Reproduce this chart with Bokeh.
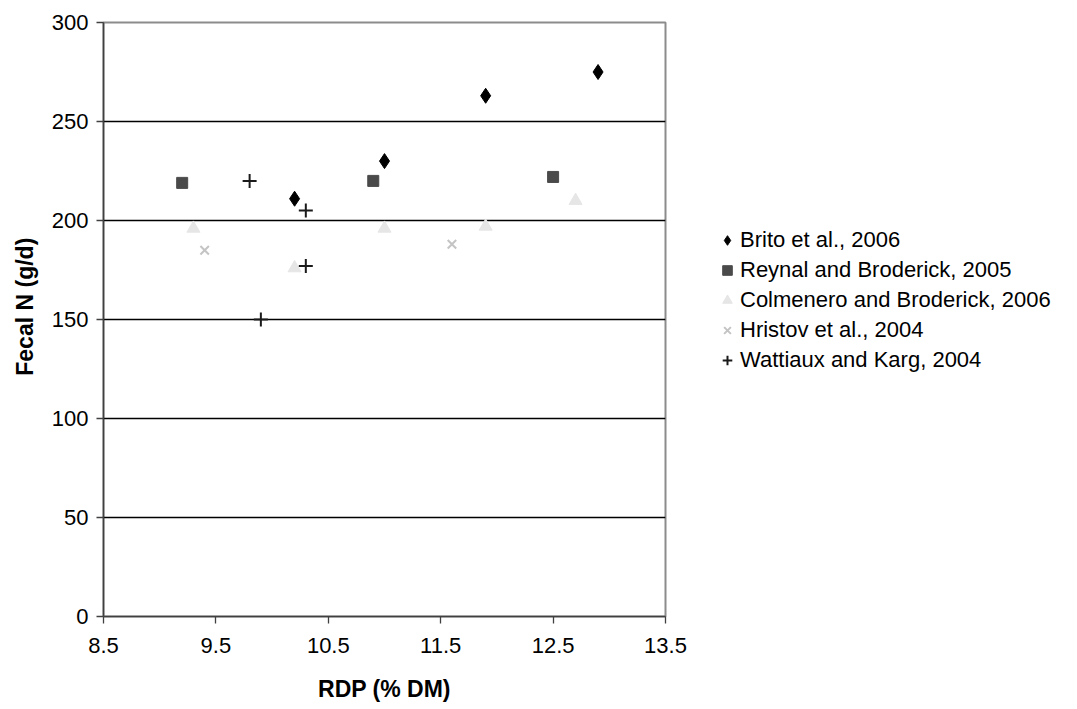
from bokeh.plotting import figure
from bokeh.models import Legend, LegendItem, FixedTicker, Range1d
from bokeh.embed import file_html
from bokeh.resources import INLINE

# Data
brito_x = [10.2, 11.0, 11.9, 12.9]
brito_y = [211, 230, 263, 275]
reynal_x = [9.2, 10.9, 12.5]
reynal_y = [219, 220, 222]
colm_x = [9.3, 10.2, 11.0, 11.9, 12.7]
colm_y = [196, 176, 196, 197, 210]
hristov_x = [9.4, 11.6]
hristov_y = [185, 188]
watt_x = [9.8, 9.9, 10.3, 10.3]
watt_y = [220, 150, 205, 177]

x_ticks = [8.5, 9.5, 10.5, 11.5, 12.5, 13.5]
y_ticks = [0, 50, 100, 150, 200, 250, 300]

FONT = "Liberation Sans"

p = figure(output_backend="svg", toolbar_location=None,
           x_range=Range1d(8.5, 13.5), y_range=Range1d(0, 300),
           frame_width=562, frame_height=594,
           min_border_left=103, min_border_right=0,
           min_border_top=22, min_border_bottom=77)
p.background_fill_color = "white"
p.border_fill_color = "white"
p.outline_line_color = "#8c8c8c"
p.outline_line_width = 2

p.xgrid.visible = False
p.ygrid.grid_line_color = "black"
p.ygrid.grid_line_width = 1.3
p.ygrid.ticker = FixedTicker(ticks=y_ticks)

for ax in (p.xaxis[0], p.yaxis[0]):
    ax.axis_line_color = "#404040"
    ax.axis_line_width = 1.5
    ax.major_tick_line_color = "#404040"
    ax.major_tick_line_width = 1.3
    ax.major_tick_out = 7
    ax.major_tick_in = 0
    ax.minor_tick_line_color = None
    ax.major_label_text_font = FONT
    ax.major_label_text_font_size = "22px"
    ax.major_label_text_color = "black"
    ax.axis_label_text_font = FONT
    ax.axis_label_text_font_size = "23px"
    ax.axis_label_text_font_style = "bold"
    ax.axis_label_text_color = "black"

p.xaxis.ticker = FixedTicker(ticks=x_ticks)
p.yaxis.ticker = FixedTicker(ticks=y_ticks)
p.xaxis.major_label_overrides = {v: f"{v:.1f}" for v in x_ticks}
p.xaxis.axis_label = "RDP (% DM)"
# leading no-break spaces lift the visible title slightly above the frame centre
p.yaxis.axis_label = "\u00a0\u00a0\u00a0\u00a0Fecal N (g/d)"
p.xaxis.major_label_standoff = 14
p.yaxis.major_label_standoff = 8
p.xaxis.axis_label_standoff = 20
p.yaxis.axis_label_standoff = 11

r_brito = p.scatter(brito_x, brito_y, marker="diamond", size=15,
                    fill_color="black", line_color="black")
r_reynal = p.scatter(reynal_x, reynal_y, marker="square", size=11,
                     fill_color="#4a4a4a", line_color="#4a4a4a")
r_colm = p.scatter(colm_x, colm_y, marker="triangle", size=13,
                   fill_color="#e6e6e6", line_color="#e6e6e6")
r_hristov = p.scatter(hristov_x, hristov_y, marker="x", size=12,
                      line_color="#c4c4c4", line_width=2)
r_watt = p.scatter(watt_x, watt_y, marker="cross", size=14,
                   line_color="#1a1a1a", line_width=2)

legend = Legend(items=[
    LegendItem(label="Brito et al., 2006", renderers=[r_brito]),
    LegendItem(label="Reynal and Broderick, 2005", renderers=[r_reynal]),
    LegendItem(label="Colmenero and Broderick, 2006", renderers=[r_colm]),
    LegendItem(label="Hristov et al., 2004", renderers=[r_hristov]),
    LegendItem(label="Wattiaux and Karg, 2004", renderers=[r_watt]),
], location=(50, 243))
legend.label_text_font = FONT
legend.label_text_font_size = "22px"
legend.label_text_color = "black"
legend.border_line_alpha = 0
legend.background_fill_alpha = 0
legend.glyph_width = 24
legend.glyph_height = 24
legend.label_standoff = 1
legend.spacing = 4
legend.padding = 0
legend.margin = 25
legend.label_height = 24
p.add_layout(legend, "right")

open("out.html", "w").write(file_html(p, INLINE))
